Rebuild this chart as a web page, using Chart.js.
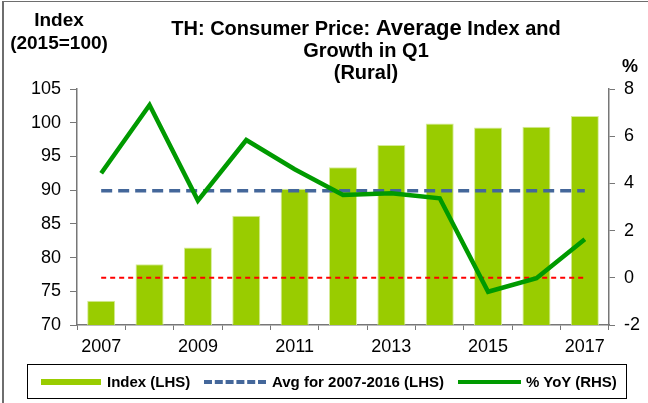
<!DOCTYPE html>
<html>
<head>
<meta charset="utf-8">
<script src="https://cdn.jsdelivr.net/npm/chart.js@4"></script>
<style>
  body { margin: 0; background: #fff; font-family: "Liberation Sans", Arial, sans-serif; }
  #wrap { position: relative; width: 648px; height: 403px; overflow: hidden; }
  #frame { position: absolute; left: 2px; top: 1px; width: 660px; height: 420px;
           border-left: 2px solid #6e6e6e; border-top: 1px solid #6e6e6e; }
  .txt { position: absolute; font-weight: bold; color: #000; text-align: center; white-space: nowrap; }
  #title { left: 166px; width: 400px; top: 17px; font-size: 20px; line-height: 22px; }
  #title .big { font-size: 22px; }
  #ylab { left: 9px; width: 100px; top: 8px; font-size: 19px; line-height: 23px; }
  #rlab { left: 620px; width: 20px; top: 56px; font-size: 18px; }
  #legend { position: absolute; left: 27px; top: 364px; width: 598px; height: 33px;
            border: 1px solid #000; font-size: 15px; font-weight: bold; }
  .item { position: absolute; top: 8px; line-height: 17px; white-space: nowrap; }
  .sw { position: absolute; }
</style>
</head>
<body>
<div id="wrap">
  <canvas id="c" width="648" height="403"></canvas>
  <div id="frame"></div>
  <div class="txt" id="title">TH: Consumer Price: <span class="big">Average</span> Index and<br>Growth in Q1<br>(Rural)</div>
  <div class="txt" id="ylab">Index<br>(2015=100)</div>
  <div class="txt" id="rlab">%</div>
  <div id="legend">
    <div class="sw" style="left:13px;top:14px;width:60px;height:6px;background:#99cc00"></div>
    <div class="item" style="left:79px">Index (LHS)</div>
    <div class="sw" style="left:176px;top:15px;width:62px;height:0;border-top:4px dashed #44679a"></div>
    <div class="item" style="left:244px">Avg for 2007-2016 (LHS)</div>
    <div class="sw" style="left:430px;top:15px;width:63px;height:4px;background:#009a00"></div>
    <div class="item" style="left:498px">% YoY (RHS)</div>
  </div>
</div>
<script>
const years = ['2007', '2008', '2009', '2010', '2011', '2012', '2013', '2014', '2015', '2016', '2017'];
const indexValues = [73.6, 79.0, 81.5, 86.2, 90.2, 93.4, 96.7, 99.9, 99.3, 99.4, 101.0];
const avgValues = [89.9, 89.9, 89.9, 89.9, 89.9, 89.9, 89.9, 89.9, 89.9, 89.9, 89.9];
const yoyValues = [4.43, 7.32, 3.27, 5.84, 4.6, 3.51, 3.58, 3.37, -0.59, -0.02, 1.63];
const zeroLine = [0, 0, 0, 0, 0, 0, 0, 0, 0, 0, 0];

const tickFont = { family: "'Liberation Sans', Arial, sans-serif", size: 18 };

new Chart(document.getElementById('c'), {
  data: {
    labels: years,
    datasets: [
      {
        type: 'line',
        label: '% YoY (RHS)',
        data: yoyValues,
        yAxisID: 'y1',
        borderColor: '#009a00',
        borderWidth: 4.5,
        pointRadius: 0,
        tension: 0,
        order: 1
      },
      {
        type: 'line',
        label: 'Avg for 2007-2016 (LHS)',
        data: avgValues,
        yAxisID: 'y',
        borderColor: '#44679a',
        borderWidth: 3.5,
        borderDash: [11, 6],
        pointRadius: 0,
        order: 2
      },
      {
        type: 'line',
        label: 'zero',
        data: zeroLine,
        yAxisID: 'y1',
        borderColor: '#ff0000',
        borderWidth: 2,
        borderDash: [5, 4],
        pointRadius: 0,
        order: 3
      },
      {
        type: 'bar',
        label: 'Index (LHS)',
        data: indexValues,
        yAxisID: 'y',
        backgroundColor: '#99cc00',
        borderColor: '#d6eb99',
        borderWidth: 1,
        categoryPercentage: 1,
        barPercentage: 0.58,
        order: 5
      }
    ]
  },
  options: {
    responsive: false,
    animation: false,
    layout: { padding: { top: 89, left: 2, right: 2, bottom: 46 } },
    plugins: {
      legend: { display: false },
      title: { display: false },
      tooltip: { enabled: false }
    },
    scales: {
      x: {
        grid: { offset: true, drawOnChartArea: false, color: '#777', tickLength: 5 },
        border: { color: '#777', width: 1.5 },
        ticks: {
          color: '#000', font: tickFont, autoSkip: false, maxRotation: 0, padding: 6,
          callback: function (v, i) { return i % 2 === 0 ? years[i] : ''; }
        },
        afterFit: function (s) { s.height = 32; }
      },
      y: {
        position: 'left',
        min: 70, max: 105,
        grid: { drawOnChartArea: false, color: '#777', tickLength: 7 },
        border: { color: '#777', width: 1.5 },
        ticks: { stepSize: 5, color: '#000', font: tickFont, padding: 9 },
        afterFit: function (s) { s.width = 75; }
      },
      y1: {
        position: 'right',
        min: -2, max: 8,
        grid: { drawOnChartArea: false, color: '#777', tickLength: 6 },
        border: { color: '#777', width: 1.5 },
        ticks: { stepSize: 2, color: '#000', font: tickFont, padding: 9 },
        afterFit: function (s) { s.width = 37; }
      }
    }
  }
});
</script>
</body>
</html>
